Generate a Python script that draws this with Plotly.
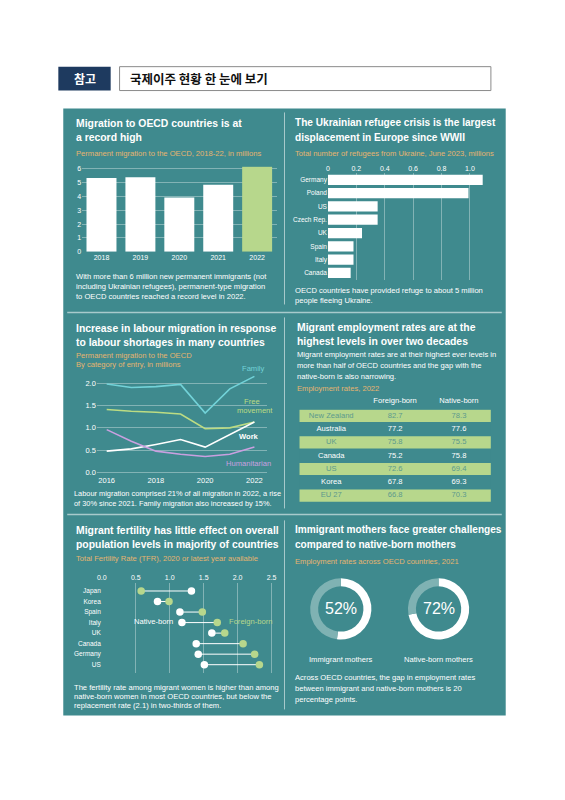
import plotly.graph_objects as go

W, H = 565, 800
TEAL = "#3f8a8e"
GREEN = "#b7d78c"
ORANGE = "#e6b46e"
GRID = "rgba(255,255,255,0.35)"
FONT = "Liberation Sans"

# 데이터
mig_years = ["2018", "2019", "2020", "2021", "2022"]
mig_values = [5.34, 5.39, 3.93, 4.85, 6.16]

ref_countries = ["Germany", "Poland", "US", "Czech Rep.", "UK", "Spain", "Italy", "Canada"]
ref_values = [1.09, 0.99, 0.35, 0.35, 0.24, 0.18, 0.18, 0.16]
ref_tickvals = [0, 0.2, 0.4, 0.6, 0.8, 1.0]
ref_ticktext = ["0", "0.2", "0.4", "0.6", "0.8", "1.0"]

lab_years = [2016, 2017, 2018, 2019, 2020, 2021, 2022]
lab_family = [1.98, 1.90, 1.92, 1.97, 1.33, 1.87, 2.15]
lab_free = [1.41, 1.37, 1.35, 1.31, 0.98, 1.00, 1.13]
lab_work = [0.48, 0.53, 0.63, 0.74, 0.57, 0.85, 1.13]
lab_human = [0.96, 0.70, 0.48, 0.41, 0.36, 0.41, 0.57]

emp_countries = ["New Zealand", "Australia", "UK", "Canada", "US", "Korea", "EU 27"]
emp_foreign = ["82.7", "77.2", "75.8", "75.2", "72.6", "67.8", "66.8"]
emp_native = ["78.3", "77.6", "75.5", "75.8", "69.4", "69.3", "70.3"]
emp_columns = ["Foreign-born", "Native-born"]

fer_countries = ["Japan", "Korea", "Spain", "Italy", "UK", "Canada", "Germany", "US"]
fer_native = [1.32, 0.82, 1.15, 1.18, 1.62, 1.39, 1.42, 1.51]
fer_foreign = [0.58, 0.99, 1.48, 1.70, 1.81, 2.08, 2.25, 2.32]
fer_tickvals = [0, 0.5, 1.0, 1.5, 2.0, 2.5]
fer_ticktext = ["0.0", "0.5", "1.0", "1.5", "2.0", "2.5"]

mother_labels = ["Immigrant mothers", "Native-born mothers"]
mother_rates = [52, 72]


# 픽셀 좌표 -> paper 좌표
def dom_x(a, b):
    return [a / W, b / W]


def dom_y(top, bottom):
    return [1 - bottom / H, 1 - top / H]


annotations = []
shapes = []


def text(x, y, s, size=7.6, color="white", bold=False, xanchor="left", family=FONT):
    if bold:
        s = "<b>" + s + "</b>"
    annotations.append(dict(
        xref="paper", yref="paper", x=x / W, y=1 - y / H, text=s,
        showarrow=False, xanchor=xanchor, yanchor="middle",
        font=dict(size=size, color=color, family=family)))


def lines(x, ys, strings, **kw):
    for y, s in zip(ys, strings):
        text(x, y, s, **kw)


def rect(x0, y0, x1, y1, fill, line_color=None, width=0):
    shapes.append(dict(
        type="rect", xref="paper", yref="paper", layer="below",
        x0=x0 / W, x1=x1 / W, y0=1 - y1 / H, y1=1 - y0 / H,
        fillcolor=fill, line=dict(color=line_color or fill, width=width)))


def seg(x0, y0, x1, y1, color="rgba(255,255,255,0.55)", width=1):
    shapes.append(dict(
        type="line", xref="paper", yref="paper", layer="above",
        x0=x0 / W, x1=x1 / W, y0=1 - y0 / H, y1=1 - y1 / H,
        line=dict(color=color, width=width)))


fig = go.Figure()

# 1. 영주 이민 막대그래프
fig.add_trace(go.Bar(
    x=mig_years, y=mig_values, xaxis="x", yaxis="y",
    marker=dict(color=["white"] * 4 + [GREEN], line=dict(width=0)),
    hoverinfo="skip"))

# 2. 우크라이나 난민 가로 막대
fig.add_trace(go.Bar(
    x=ref_values, y=ref_countries, orientation="h", xaxis="x2", yaxis="y2",
    marker=dict(color="white", line=dict(width=0)), hoverinfo="skip"))

# 3. 입국 유형별 선그래프
for vals, col in [(lab_family, "#72d2d8"), (lab_free, "#bcdc83"),
                  (lab_work, "white"), (lab_human, "#c9a0e0")]:
    fig.add_trace(go.Scatter(
        x=lab_years, y=vals, mode="lines", xaxis="x3", yaxis="y3",
        line=dict(color=col, width=1.6), hoverinfo="skip"))

# 4. 고용률 표 (줄무늬는 막대, 글자는 text 산점도)
n = len(emp_countries)
stripe = [GREEN if i % 2 == 0 else TEAL for i in range(n)]
cell_color = ["#5d9a8c" if i % 2 == 0 else "white" for i in range(n)]
fig.add_trace(go.Bar(
    x=[3] * n, y=emp_countries, base=0, orientation="h", xaxis="x5", yaxis="y5",
    width=0.92, marker=dict(color=stripe, line=dict(width=0)), hoverinfo="skip"))
for col, vals in enumerate([emp_countries, emp_foreign, emp_native]):
    fig.add_trace(go.Scatter(
        x=[col + 0.5] * n, y=emp_countries, text=vals, mode="text",
        xaxis="x5", yaxis="y5", hoverinfo="skip",
        textfont=dict(size=7.6, color=cell_color, family=FONT)))
fig.add_trace(go.Scatter(
    x=[1.5, 2.5], y=[-1, -1], text=emp_columns, mode="text",
    xaxis="x5", yaxis="y6", hoverinfo="skip",
    textfont=dict(size=7.6, color="white", family=FONT)))

# 5. 출산율 덤벨 차트
dx, dy = [], []
for c, a, b in zip(fer_countries, fer_native, fer_foreign):
    dx += [a, b, None]
    dy += [c, c, None]
fig.add_trace(go.Scatter(
    x=dx, y=dy, mode="lines", xaxis="x4", yaxis="y4",
    line=dict(color="white", width=1), hoverinfo="skip"))
fig.add_trace(go.Scatter(
    x=fer_native, y=fer_countries, mode="markers", xaxis="x4", yaxis="y4",
    marker=dict(color="white", size=7.5), hoverinfo="skip"))
fig.add_trace(go.Scatter(
    x=fer_foreign, y=fer_countries, mode="markers", xaxis="x4", yaxis="y4",
    marker=dict(color=GREEN, size=7.5), hoverinfo="skip"))

# 6. 어머니 고용률 도넛
for i, (lab, val) in enumerate(zip(mother_labels, mother_rates)):
    cx = 340 + 99 * i
    fig.add_trace(go.Pie(
        values=[val, 100 - val], hole=0.74, sort=False, direction="clockwise",
        rotation=0, textinfo="none", hoverinfo="skip", showlegend=False,
        marker=dict(colors=["white", "#7fb2b3"], line=dict(width=0)),
        domain=dict(x=dom_x(cx - 31, cx + 31), y=dom_y(580, 642))))
    text(cx, 611, f"{val}%", size=16, xanchor="center")
    text(cx, 662, lab, size=7.6, xanchor="center")

# 배경, 머리말
rect(59, 108, 507, 718, TEAL)
rect(54, 66, 107, 90, "#1e3a5f")
rect(116, 66, 492, 90, "white", "#8a8a8a", 1)
text(80.5, 78, "참고", size=12, bold=True, xanchor="center", family="Noto Sans CJK KR")
text(125, 78, "국제이주 현황 한 눈에 보기", size=12.5, color="#111111", bold=True,
     family="Noto Sans CJK KR")

# 구분선
for y0, y1 in [(112, 305), (318, 510), (522, 712)]:
    seg(283, y0, 283, y1)
seg(63, 313, 503, 313, width=1.5)
seg(63, 516, 503, 516, width=1.5)

# 제목과 설명
T = 10.4
lines(70, [123, 137], ["Migration to OECD countries is at", "a record high"], size=T, bold=True)
text(70, 153, "Permanent migration to the OECD, 2018-22, in millions", color=ORANGE)
lines(70, [277, 287, 297], [
    "With more than 6 million new permanent immigrants (not",
    "including Ukrainian refugees), permanent-type migration",
    "to OECD countries reached a record level in 2022."])

lines(292, [122, 137], ["The Ukrainian refugee crisis is the largest",
                        "displacement in Europe since WWII"], size=10.1, bold=True)
text(292, 153, "Total number of refugees from Ukraine, June 2023, millions", color=ORANGE)
lines(292, [291, 301], ["OECD countries have provided refuge to about 5 million",
                        "people fleeing Ukraine."])

lines(70, [329, 343], ["Increase in labour migration in response",
                       "to labour shortages in many countries"], size=T, bold=True)
lines(70, [356, 365], ["Permanent migration to the OECD",
                       "By category of entry, in millions"], color=ORANGE)
text(252, 369, "Family", color="#72d2d8", xanchor="center")
text(250, 403, "Free", color="#bcdc83", xanchor="center")
text(253, 412, "movement", color="#bcdc83", xanchor="center")
text(247, 438, "Work", bold=True, xanchor="center")
text(247, 465, "Humanitarian", color="#c9a0e0", xanchor="center")
lines(68, [495, 505], ["Labour migration comprised 21% of all migration in 2022, a rise",
                       "of 30% since 2021. Family migration also increased by 15%."], size=7.4)

lines(294, [328, 342], ["Migrant employment rates are at the",
                        "highest levels in over two decades"], size=T, bold=True)
lines(294, [355, 366, 377], [
    "Migrant employment rates are at their highest ever levels in",
    "more than half of OECD countries and the gap with the",
    "native-born is also narrowing."])
text(294, 389, "Employment rates, 2022", color=ORANGE)

lines(70, [532, 546], ["Migrant fertility has little effect on overall",
                       "population levels in majority of countries"], size=T, bold=True)
text(70, 560, "Total Fertility Rate (TFR), 2020 or latest year available", color=ORANGE)
text(172, 624, "Native-born", xanchor="right")
text(225, 624, "Foreign-born", color=GREEN)
lines(68, [690, 699, 708], [
    "The fertility rate among migrant women is higher than among",
    "native-born women in most OECD countries, but below the",
    "replacement rate (2.1) in two-thirds of them."])

lines(292, [531, 546], ["Immigrant mothers face greater challenges",
                        "compared to native-born mothers"], size=10.1, bold=True)
text(292, 563, "Employment rates across OECD countries, 2021", color=ORANGE)
lines(292, [680, 691, 702], [
    "Across OECD countries, the gap in employment rates",
    "between immigrant and native-born mothers is 20",
    "percentage points."])

tick_font = dict(size=7, color="white", family=FONT)
hidden = dict(visible=False, fixedrange=True)
fig.update_layout(
    width=W, height=H, margin=dict(l=0, r=0, t=0, b=0),
    paper_bgcolor="white", plot_bgcolor="rgba(0,0,0,0)",
    showlegend=False, bargap=0.23,
    font=dict(family=FONT, color="white"),
    annotations=annotations, shapes=shapes,
    xaxis=dict(domain=dom_x(78, 275), anchor="y", showgrid=False, zeroline=False,
               tickfont=tick_font, ticks="", fixedrange=True),
    yaxis=dict(domain=dom_y(166, 252), anchor="x", range=[0, 6.2], dtick=1,
               gridcolor=GRID, gridwidth=1, zeroline=False, tickfont=tick_font,
               ticks="", fixedrange=True),
    xaxis2=dict(domain=dom_x(327, 488), anchor="y2", range=[0, 1.12], side="top",
                tickvals=ref_tickvals, ticktext=ref_ticktext, gridcolor=GRID,
                zeroline=False, tickfont=tick_font, ticks="", fixedrange=True),
    yaxis2=dict(domain=dom_y(173, 280), anchor="x2", autorange="reversed",
                showgrid=False, tickfont=dict(size=6.5, color="white", family=FONT),
                ticks="", fixedrange=True),
    xaxis3=dict(domain=dom_x(93, 265), anchor="y3", range=[2015.6, 2022.5],
                tickvals=[2016, 2018, 2020, 2022], showgrid=False, zeroline=False,
                tickfont=dict(size=7.5, color="white", family=FONT), ticks="",
                fixedrange=True),
    yaxis3=dict(domain=dom_y(372.75, 476.25), anchor="x3", range=[-0.05, 2.25],
                tickvals=[0, 0.5, 1.0, 1.5, 2.0], ticktext=["0.0", "0.5", "1.0", "1.5", "2.0"],
                gridcolor=GRID, zeroline=False,
                tickfont=dict(size=7.5, color="white", family=FONT), ticks="",
                fixedrange=True),
    xaxis4=dict(domain=dom_x(98, 273.4), anchor="y4", range=[0, 2.55], side="top",
                tickvals=fer_tickvals, ticktext=fer_ticktext, gridcolor=GRID,
                zeroline=False, tickfont=tick_font, ticks="", fixedrange=True),
    yaxis4=dict(domain=dom_y(584.5, 675.5), anchor="x4", range=[7.8, -0.8],
                showgrid=False, tickfont=dict(size=6.5, color="white", family=FONT),
                ticks="", fixedrange=True),
    xaxis5=dict(domain=dom_x(298, 492), anchor="y5", range=[0, 3], **hidden),
    yaxis5=dict(domain=dom_y(410.3, 503.7), anchor="x5", range=[6.5, -0.5], **hidden),
    yaxis6=dict(domain=dom_y(396, 408), anchor="x5", range=[-1.5, -0.5], **hidden),
)

fig.write_html("out.html", config={"displayModeBar": False},
               post_script="document.body.style.margin = '0';")
